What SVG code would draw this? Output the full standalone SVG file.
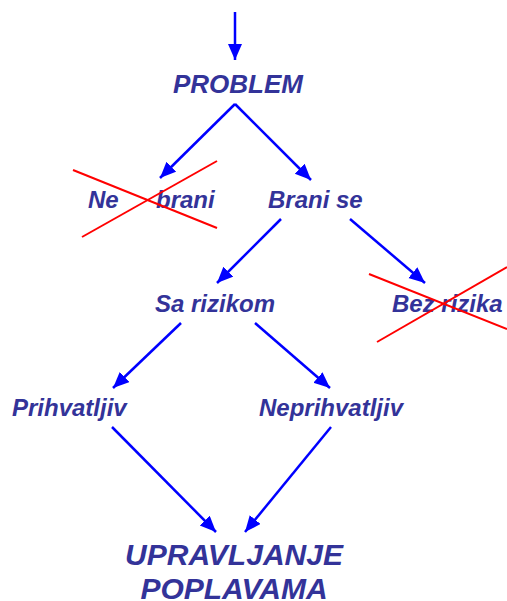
<svg xmlns="http://www.w3.org/2000/svg" width="507" height="601" viewBox="0 0 507 601">
<defs>
<marker id="ah" markerUnits="userSpaceOnUse" markerWidth="18" markerHeight="16" refX="16" refY="7" orient="auto">
<path d="M0,0 L16,7 L0,14 Z" fill="#0000FF"/>
</marker>
<style>
.t{font-family:"Liberation Sans",Arial,sans-serif;font-weight:bold;font-style:italic;fill:#333399}
.a{stroke:#0000FF;stroke-width:2.5;fill:none;marker-end:url(#ah)}
.x{stroke:#FF0000;stroke-width:2}
</style>
</defs>
<rect width="507" height="601" fill="#FFFFFF"/>
<g id="connectors">
<line class="a" x1="235" y1="12" x2="235" y2="60"/>
<line class="a" x1="235" y1="104" x2="160" y2="178"/>
<line class="a" x1="235" y1="104" x2="311" y2="180"/>
<line class="a" x1="281" y1="219" x2="217" y2="283"/>
<line class="a" x1="350" y1="219" x2="425" y2="283"/>
<line class="a" x1="181" y1="323" x2="113" y2="388"/>
<line class="a" x1="255" y1="323" x2="330" y2="388"/>
<line class="a" x1="112" y1="427" x2="216" y2="532"/>
<line class="a" x1="331" y1="427" x2="245" y2="532"/>
</g>
<g id="problem"><text class="t" x="173" y="93" font-size="26">PROBLEM</text></g>
<g id="ne-brani">
<text class="t" x="88" y="208" font-size="24">Ne</text>
<text class="t" x="156" y="208" font-size="24">brani</text>
<line class="x" x1="73" y1="170" x2="217" y2="228"/>
<line class="x" x1="82" y1="237" x2="217" y2="161"/>
</g>
<g id="brani-se"><text class="t" x="268" y="208" font-size="24">Brani se</text></g>
<g id="sa-rizikom"><text class="t" x="155" y="312" font-size="24">Sa rizikom</text></g>
<g id="bez-rizika">
<text class="t" x="392" y="312" font-size="24">Bez rizika</text>
<line class="x" x1="369" y1="274" x2="507" y2="329"/>
<line class="x" x1="377" y1="342" x2="507" y2="267"/>
</g>
<g id="prihvatljiv"><text class="t" x="12" y="416" font-size="24">Prihvatljiv</text></g>
<g id="neprihvatljiv"><text class="t" x="259" y="416" font-size="24">Neprihvatljiv</text></g>
<g id="upravljanje">
<text class="t" x="234" y="565" font-size="30" text-anchor="middle">UPRAVLJANJE</text>
<text class="t" x="234" y="599" font-size="30" text-anchor="middle">POPLAVAMA</text>
</g>
</svg>
